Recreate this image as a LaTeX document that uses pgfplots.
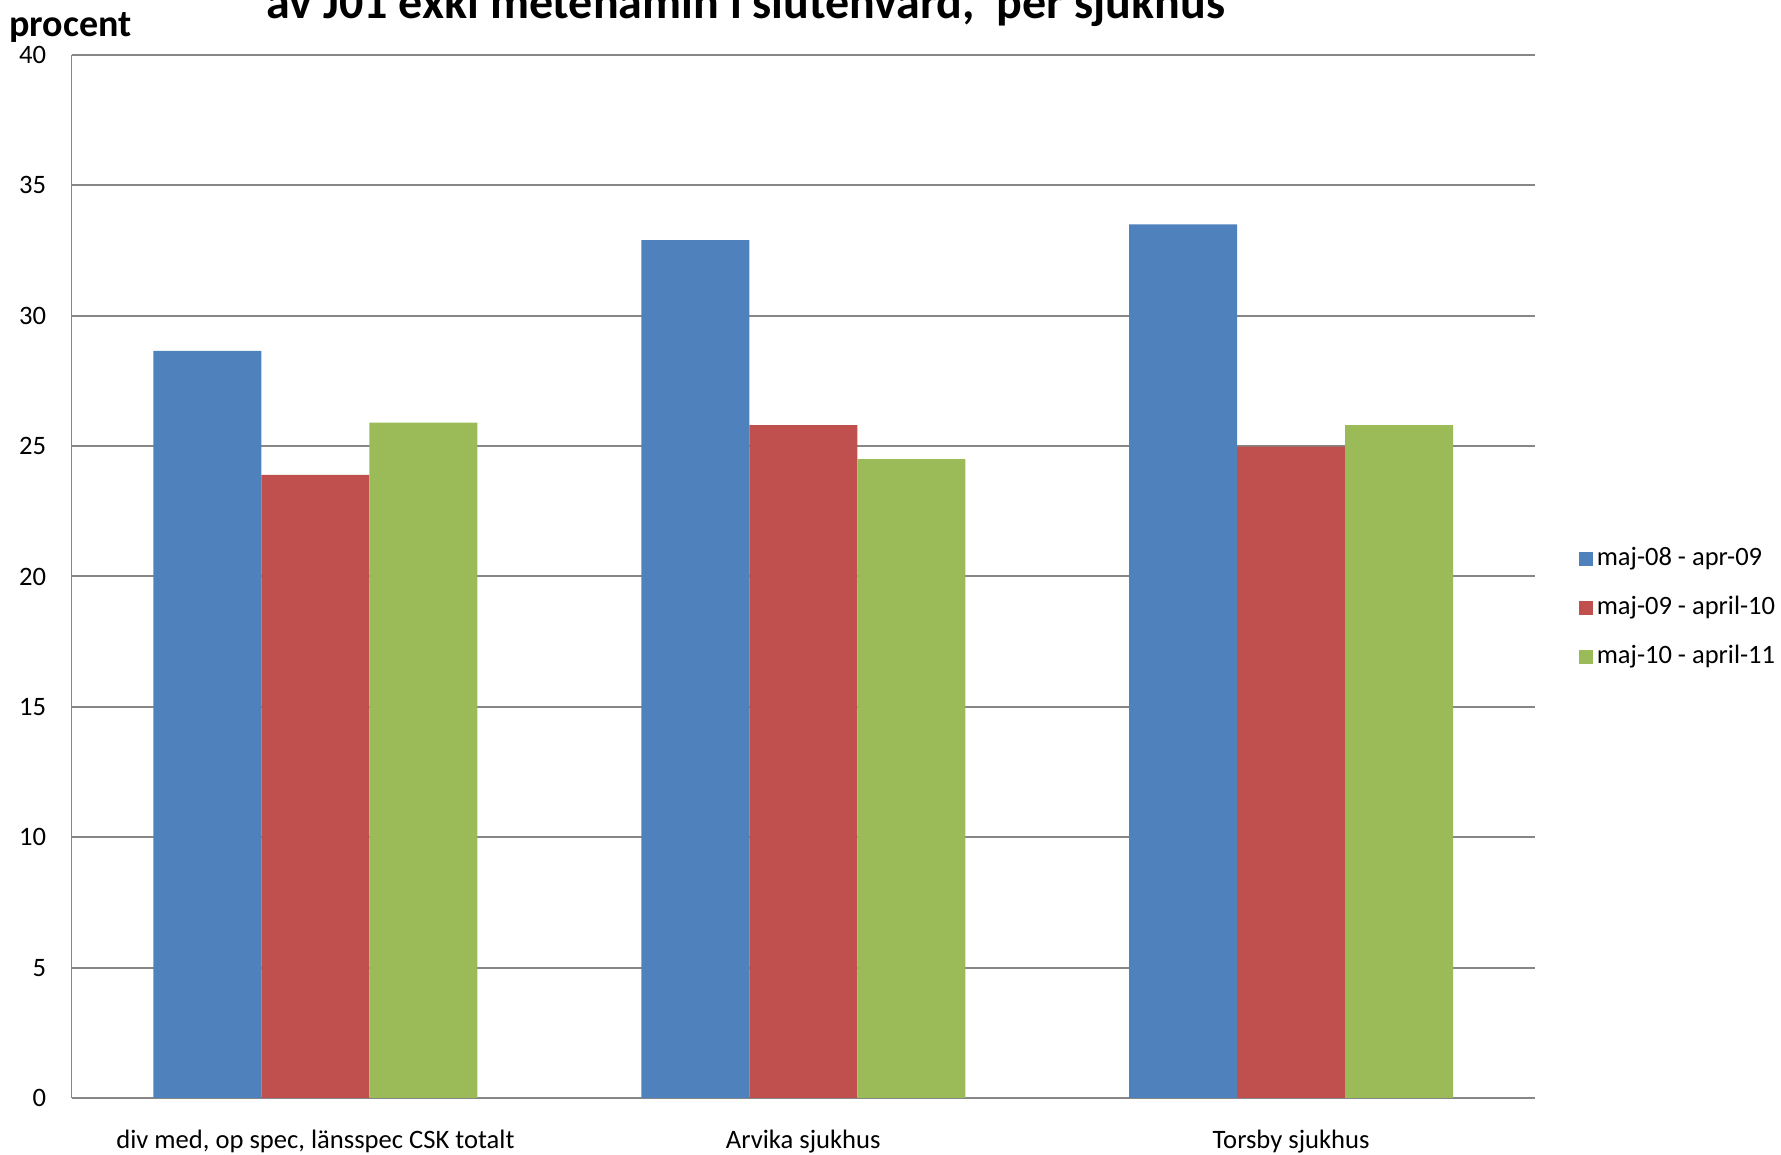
\documentclass[border=0pt]{standalone}
\usepackage{fontspec}
\setmainfont{Carlito}
\usepackage{pgfplots}
\pgfplotsset{compat=1.18}
\definecolor{bblue}{HTML}{4F81BD}
\definecolor{rred}{HTML}{C0504D}
\definecolor{ggreen}{HTML}{9BBB59}
\definecolor{ggrid}{HTML}{868686}

\begin{document}
\begin{tikzpicture}
   \begin{axis}[
       scale only axis,
       width  = 731.75bp,
       height = 521.5bp,
       ybar=0pt,
       bar width=54bp,
       xmin=-0.5, xmax=2.5,
       ymin=0, ymax=40,
       ytick distance=5,
       xtick={0,1,2},
       xticklabels={{div med, op spec, länsspec CSK totalt},{Arvika sjukhus},{Torsby sjukhus}},
       axis lines*=left,
       axis line style={ggrid, line width=0.9bp},
       major tick length=0pt,
       ymajorgrids = true,
       grid style={ggrid, line width=1bp},
       /pgf/number format/assume math mode=true,
       tick label style={font=\fontsize{13.3bp}{15bp}\selectfont},
       yticklabel style={anchor=east, inner xsep=0pt, xshift=-12.5bp},
       xticklabel style={anchor=base, yshift=-25.5bp},
       legend cell align=left,
       legend style={
           at={(1,0.4696)}, anchor=west, xshift=21.7bp,
           draw=none, fill=none, inner sep=0pt,
           font=\fontsize{13.25bp}{15bp}\selectfont,
           row sep=12.5bp,
           nodes={text height=9bp, text depth=3bp, inner ysep=0pt, inner xsep=2bp}
       },
       legend image code/.code={
           \fill[#1] (0bp,-3.5bp) rectangle (7bp,3.5bp);
       },
   ]
       \addplot[fill=bblue, draw=none]
           coordinates {(0,28.65) (1,32.9) (2,33.5)};
       \addplot[fill=rred, draw=none]
           coordinates {(0,23.9) (1,25.8) (2,24.98)};
       \addplot[fill=ggreen, draw=none]
           coordinates {(0,25.9) (1,24.5) (2,25.8)};
       \legend{maj-08 - apr-09, maj-09 - april-10, maj-10 - april-11}

       \coordinate (bl) at (rel axis cs:0,0);
       \coordinate (tr) at (rel axis cs:1,1);
       \coordinate (tl) at (rel axis cs:0,1);
       \coordinate (tt) at (rel axis cs:0.461,1);
   \end{axis}
   % titles outside the axis, so that they are not clipped
   \node[anchor=base west, font=\bfseries\fontsize{19bp}{21bp}\selectfont,
         inner sep=0pt, xshift=-31.25bp, yshift=9bp] at (tl) {procent};
   \node[anchor=base, font=\bfseries\fontsize{24bp}{26bp}\selectfont,
         inner sep=0pt, yshift=18bp] at (tt)
         {av J01 exkl metenamin i slutenvård,~ per sjukhus};
   \pgfresetboundingbox
   \path ([xshift=-35.75bp,yshift=-28.5bp]bl) rectangle ([xshift=123bp,yshift=27.5bp]tr);
\end{tikzpicture}
\end{document}
